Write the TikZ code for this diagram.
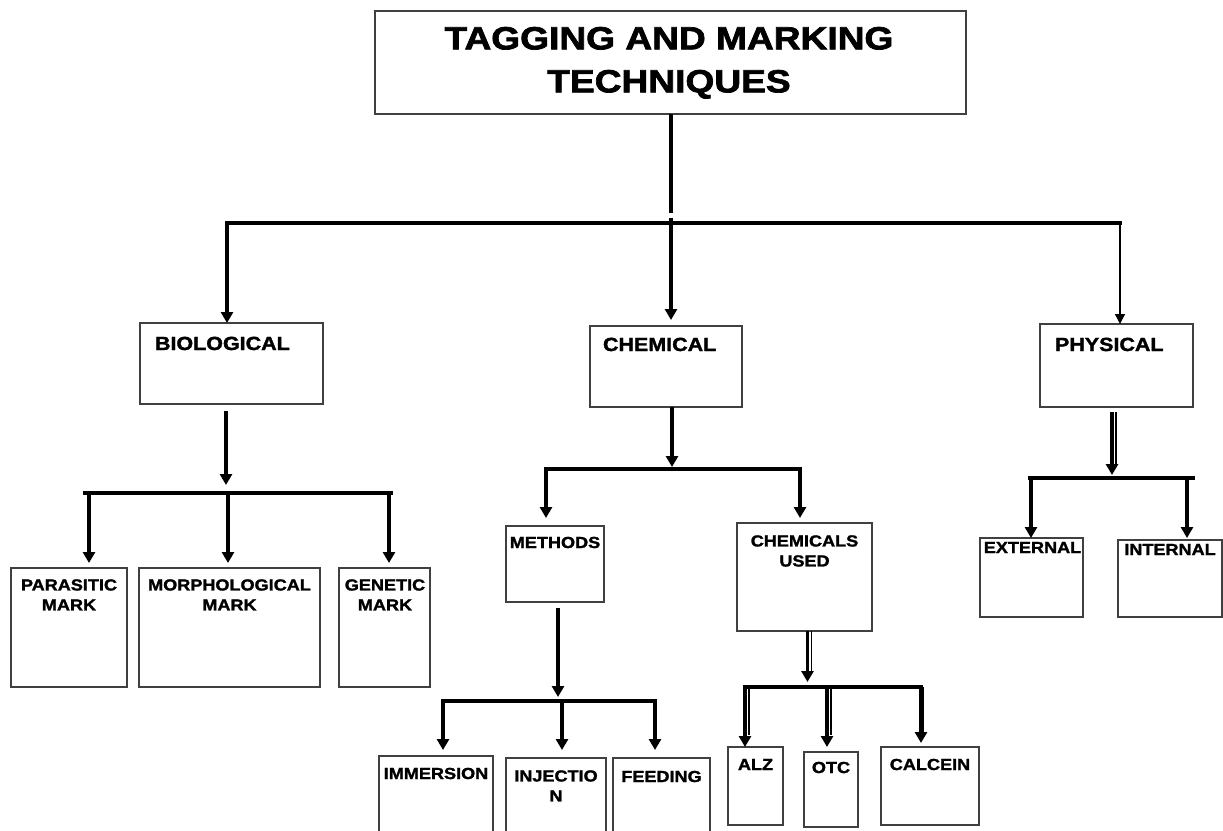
\documentclass[tikz,border=0pt]{standalone}
\usepackage{fontspec}
\newfontfamily\labfont[FakeStretch=1.13,FakeBold=1.6]{Liberation Sans Bold}
\newfontfamily\ttlfont[FakeStretch=1.16,FakeBold=2.2]{Liberation Sans Bold}
\usetikzlibrary{arrows.meta}
\begin{document}
\begin{tikzpicture}[x=1pt,y=-1pt,
  box/.style={draw=black!75, line width=1.1pt, inner sep=0pt, outer sep=0pt, anchor=north west},
  lab/.style={inner sep=0pt, outer sep=0pt, font=\labfont\fontsize{16}{20}\selectfont, align=center},
  midlab/.style={inner sep=0pt, outer sep=0pt, font=\labfont\fontsize{19}{23}\selectfont, anchor=base west},
  ttl/.style={inner sep=0pt, outer sep=0pt, font=\ttlfont\fontsize{32}{43}\selectfont, align=center},
  conn/.style={line width=4pt},
  bar/.style={line width=4pt, line cap=rect},
  arr/.style={line width=4pt, -{Triangle[width=12pt,length=11pt]}},
  dblarr/.style={line width=3.4pt, -{Triangle[width=12pt,length=11pt]}},
  side/.style={line width=1.5pt},
  thinarr/.style={line width=1.3pt, -{Triangle[width=10pt,length=10pt]}}
]
\fill[white] (0,0) rectangle (1223,830);
\useasboundingbox (0,0) rectangle (1223,830);
\clip (0,0) rectangle (1223,830);

% ---------- title ----------
\node[box, minimum width=591pt, minimum height=103pt] (title) at (375,11) {};
\node[ttl, anchor=north] (titlet) at (669,27) {TAGGING AND MARKING\\TECHNIQUES};

% ---------- second level boxes ----------
\node[box, minimum width=183pt, minimum height=81pt] (bio) at (140,323) {};
\node[midlab] (biot) at (155,350) {BIOLOGICAL};
\node[box, minimum width=152pt, minimum height=81pt] (chem) at (590,326) {};
\node[midlab] (chemt) at (603,351) {CHEMICAL};
\node[box, minimum width=153pt, minimum height=83pt] (phys) at (1040,324) {};
\node[midlab] (physt) at (1055,351) {PHYSICAL};

% ---------- top connectors ----------
\coordinate (g1) at (671,213);
\coordinate (g2) at (671,218);
\coordinate (tL) at (227,223);
\coordinate (tR) at (1120,223);
\draw[conn] (title.south -| g1) -- (g1);
\draw[bar] (tL) -- (tR);
\draw[arr] (tL) -- (bio.north -| tL);
\draw[arr, shorten >=6pt] (g2) -- (chem.north -| g2);
\draw[thinarr] (tR) -- (phys.north -| tR);

% ---------- biological branch ----------
\node[box, minimum width=116pt, minimum height=119pt] (para) at (11,568) {};
\node[box, minimum width=181pt, minimum height=119pt] (morph) at (139,568) {};
\node[box, minimum width=91pt, minimum height=119pt] (gen) at (339,568) {};
\node[lab, anchor=north] (parat) at (69,579.3) {PARASITIC\\MARK};
\node[lab, anchor=north] (morpht) at (229.5,579.3) {MORPHOLOGICAL\\MARK};
\node[lab, anchor=north] (gent) at (385,579.3) {GENETIC\\MARK};

\coordinate (bj) at (226,485);
\coordinate (bL) at (85,493);
\coordinate (bR) at (391,493);
\coordinate (b1) at (89,493);
\coordinate (b2) at (228,493);
\coordinate (b3) at (389,493);
\draw[arr, shorten <=7pt] (bio.south -| bj) -- (bj);
\draw[bar] (bL) -- (bR);
\draw[arr, shorten >=5pt] (b1) -- (para.north -| b1);
\draw[arr, shorten >=5pt] (b2) -- (morph.north -| b2);
\draw[arr, shorten >=5pt] (b3) -- (gen.north -| b3);

% ---------- chemical branch ----------
\node[box, minimum width=98pt, minimum height=76pt] (meth) at (506,526) {};
\node[lab, anchor=base] (metht) at (555,548) {METHODS};
\node[box, minimum width=135pt, minimum height=108pt] (chu) at (737,523) {};
\node[lab, anchor=north] (chut) at (804.5,535.3) {CHEMICALS\\USED};

\coordinate (cj) at (672,467);
\coordinate (cd1) at (546,469);
\coordinate (cd2) at (800,469);
\draw[arr] (chem.south -| cj) -- (cj);
\draw[bar] (cd1) -- (cd2);
\draw[arr, shorten >=8pt] (cd1) -- (meth.north -| cd1);
\draw[arr, shorten >=5pt] (cd2) -- (chu.north -| cd2);

% methods
\node[box, minimum width=114pt, minimum height=120pt] (imm) at (379,756) {};
\node[box, minimum width=100pt, minimum height=120pt] (inj) at (506,758) {};
\node[box, minimum width=97pt, minimum height=120pt] (feed) at (613,758) {};
\node[lab, anchor=base] (immt) at (436,779) {IMMERSION};
\node[lab, anchor=north] (injt) at (556,770.3) {INJECTIO\\N};
\node[lab, anchor=base] (feedt) at (661.5,782) {FEEDING};

\coordinate (mj) at (558,697);
\coordinate (m1) at (443,701);
\coordinate (m2) at (562,701);
\coordinate (m3) at (655,701);
\draw[arr, shorten <=6pt] (meth.south -| mj) -- (mj);
\draw[bar] (m1) -- (m3);
\draw[arr, shorten >=6pt] (m1) -- (imm.north -| m1);
\draw[arr, shorten >=8pt] (m2) -- (inj.north -| m2);
\draw[arr, shorten >=8pt] (m3) -- (feed.north -| m3);

% chemicals used
\node[box, minimum width=55pt, minimum height=78pt] (alz) at (728,747) {};
\node[box, minimum width=54pt, minimum height=75pt] (otc) at (804,752) {};
\node[box, minimum width=98pt, minimum height=78pt] (calc) at (881,747) {};
\node[lab, anchor=base] (alzt) at (755.5,770) {ALZ};
\node[lab, anchor=base] (otct) at (831,773) {OTC};
\node[lab, anchor=base] (calct) at (930,770) {CALCEIN};

\coordinate (uj) at (807.5,682);
\coordinate (uj2) at (811.5,671);
\coordinate (u1) at (745,687);
\coordinate (u2) at (827,687);
\coordinate (u3) at (921,687);
\coordinate (u1s) at (749,687);
\coordinate (u2s) at (831,687);
\draw[dblarr] (chu.south -| uj) -- (uj);
\draw[side] (chu.south -| uj2) -- (uj2);
\draw[bar] (u1) -- (u3);
\draw[dblarr] (u1) -- (alz.north -| u1);
\draw[side] (u1s) -- ([yshift=12pt]alz.north -| u1s);
\draw[dblarr, shorten >=5pt] (u2) -- (otc.north -| u2);
\draw[side] (u2s) -- ([yshift=17pt]otc.north -| u2s);
\draw[arr, line width=5pt, shorten >=4pt] (u3) -- (calc.north -| u3);

% ---------- physical branch ----------
\node[box, minimum width=103pt, minimum height=79pt] (ext) at (980,538) {};
\node[box, minimum width=104pt, minimum height=77pt] (int) at (1118,540) {};
\node[lab, anchor=base] (extt) at (1032.5,553) {EXTERNAL};
\node[lab, anchor=base] (intt) at (1170,555) {INTERNAL};

\coordinate (pj) at (1112,475);
\coordinate (pj2) at (1116,464);
\coordinate (p1) at (1031,478);
\coordinate (p2) at (1187,478);
\coordinate (pL) at (1030,478);
\coordinate (pR) at (1193,478);
\draw[dblarr, shorten <=5pt] (phys.south -| pj) -- (pj);
\draw[side, shorten <=5pt] (phys.south -| pj2) -- (pj2);
\draw[bar] (pL) -- (pR);
\draw[arr] (p1) -- (ext.north -| p1);
\draw[arr, shorten >=2pt] (p2) -- (int.north -| p2);
\end{tikzpicture}
\end{document}
